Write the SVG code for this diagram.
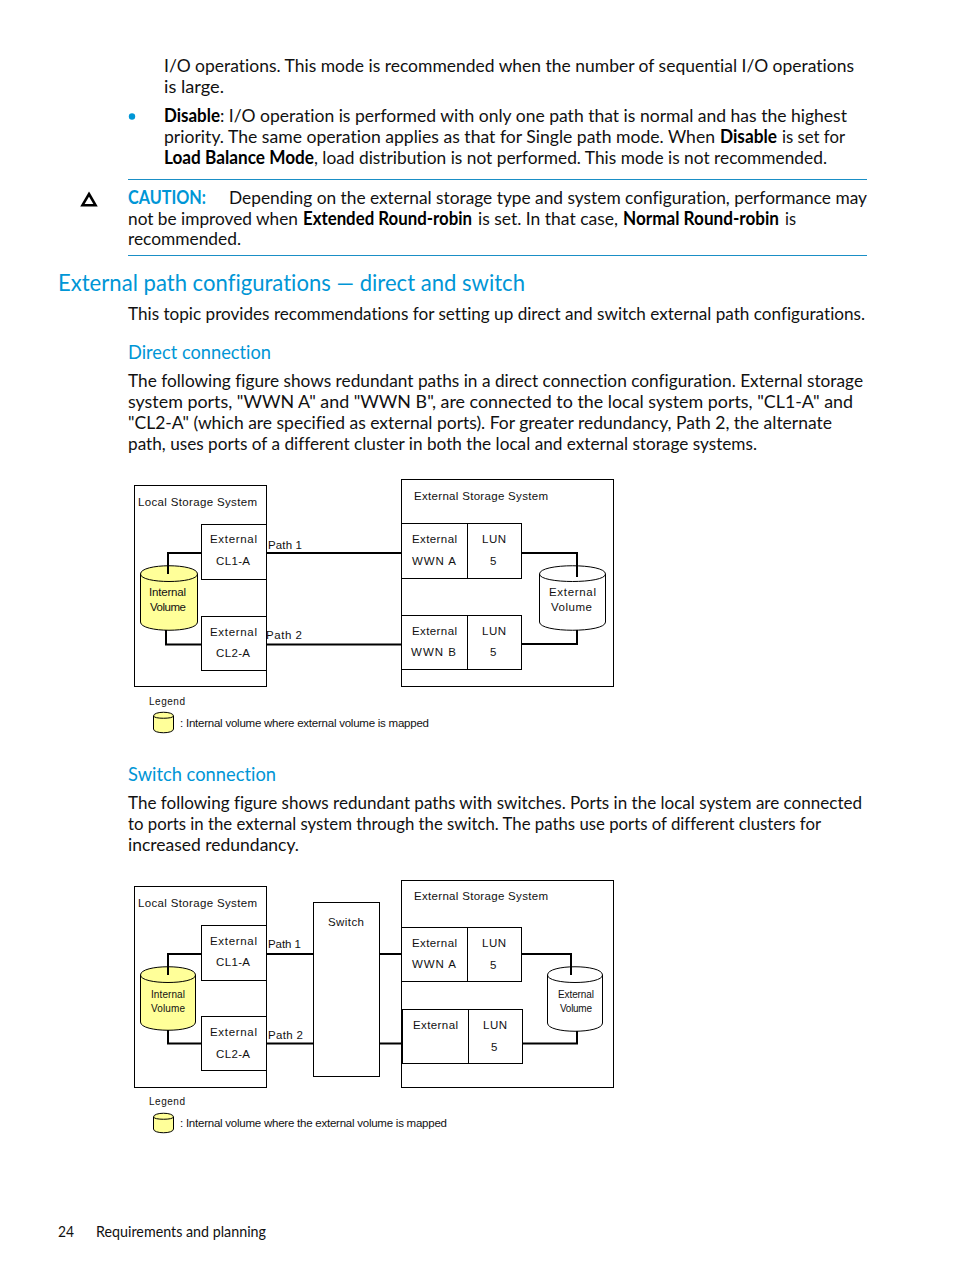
<svg xmlns="http://www.w3.org/2000/svg" width="954" height="1271" viewBox="0 0 954 1271">
<style>
text{font-family:"Lato","Noto Sans",sans-serif;font-size:18px;fill:#111;font-variant-ligatures:none}
.b{font-weight:700;fill:#000}
.bl{fill:#0096d6}
.h1{font-size:24px}
.h2{font-size:20px}
.ft{font-size:15px}
.d{font-family:"Liberation Sans",Arial,sans-serif;font-size:11.5px;fill:#111}
.s{font-size:10px}
.box{fill:#fff;stroke:#000;stroke-width:1}
.cyl{stroke:#000;stroke-width:1;fill:#fff}
.y{fill:#ffff99}
.ln{fill:none;stroke:#000;stroke-width:2}
.rule{stroke:#1a8fc6;stroke-width:1}
</style>
<rect width="954" height="1271" fill="#fff"/>

<g id="page-text">
<text x="164" y="72" textLength="690" lengthAdjust="spacingAndGlyphs">I/O operations. This mode is recommended when the number of sequential I/O operations</text>
<text x="164" y="93" textLength="60" lengthAdjust="spacingAndGlyphs">is large.</text>
<circle cx="132" cy="116.500" r="3.200" fill="#0096d6"/>
<text y="122"><tspan class="b" x="164" textLength="56" lengthAdjust="spacingAndGlyphs">Disable</tspan><tspan x="220" textLength="627" lengthAdjust="spacingAndGlyphs">: I/O operation is performed with only one path that is normal and has the highest</tspan></text>
<text y="142.500"><tspan x="164" textLength="551" lengthAdjust="spacingAndGlyphs">priority. The same operation applies as that for Single path mode. When</tspan></text>
<text y="142.500"><tspan class="b" x="720" textLength="57" lengthAdjust="spacingAndGlyphs">Disable</tspan></text>
<text y="142.500"><tspan x="782" textLength="63" lengthAdjust="spacingAndGlyphs">is set for</tspan></text>
<text y="163.500"><tspan class="b" x="164" textLength="150" lengthAdjust="spacingAndGlyphs">Load Balance Mode</tspan><tspan x="314" textLength="513" lengthAdjust="spacingAndGlyphs">, load distribution is not performed. This mode is not recommended.</tspan></text>
<line class="rule" x1="128" y1="179.500" x2="867" y2="179.500"/>
<path d="M89 194 L95.500 205.200 L82.500 205.200 Z" fill="none" stroke="#000" stroke-width="2.600"/>
<text y="204"><tspan class="b bl" x="128" textLength="78" lengthAdjust="spacingAndGlyphs">CAUTION:</tspan><tspan x="229" textLength="638" lengthAdjust="spacingAndGlyphs">Depending on the external storage type and system configuration, performance may</tspan></text>
<text y="225"><tspan x="128" textLength="170" lengthAdjust="spacingAndGlyphs">not be improved when</tspan><tspan class="b" x="303" textLength="169" lengthAdjust="spacingAndGlyphs">Extended Round-robin</tspan><tspan x="478" textLength="140" lengthAdjust="spacingAndGlyphs">is set. In that case,</tspan><tspan class="b" x="623" textLength="156" lengthAdjust="spacingAndGlyphs">Normal Round-robin</tspan><tspan x="785" textLength="11" lengthAdjust="spacingAndGlyphs">is</tspan></text>
<text x="128" y="245" textLength="113" lengthAdjust="spacingAndGlyphs">recommended.</text>
<line class="rule" x1="128" y1="255.500" x2="867" y2="255.500"/>
<text class="h1 bl" x="58" y="291" textLength="467" lengthAdjust="spacingAndGlyphs">External path configurations — direct and switch</text>
<text x="128" y="320" textLength="737" lengthAdjust="spacingAndGlyphs">This topic provides recommendations for setting up direct and switch external path configurations.</text>
<text class="h2 bl" x="128" y="359" textLength="143" lengthAdjust="spacingAndGlyphs">Direct connection</text>
<text x="128" y="387" textLength="735" lengthAdjust="spacingAndGlyphs">The following figure shows redundant paths in a direct connection configuration. External storage</text>
<text x="128" y="408" textLength="725" lengthAdjust="spacingAndGlyphs">system ports, "WWN A" and "WWN B", are connected to the local system ports, "CL1-A" and</text>
<text x="128" y="429" textLength="704" lengthAdjust="spacingAndGlyphs">"CL2-A" (which are specified as external ports). For greater redundancy, Path 2, the alternate</text>
<text x="128" y="450" textLength="629" lengthAdjust="spacingAndGlyphs">path, uses ports of a different cluster in both the local and external storage systems.</text>
<text class="h2 bl" x="128" y="781" textLength="148" lengthAdjust="spacingAndGlyphs">Switch connection</text>
<text x="128" y="809" textLength="734" lengthAdjust="spacingAndGlyphs">The following figure shows redundant paths with switches. Ports in the local system are connected</text>
<text x="128" y="830" textLength="693" lengthAdjust="spacingAndGlyphs">to ports in the external system through the switch. The paths use ports of different clusters for</text>
<text x="128" y="851" textLength="171" lengthAdjust="spacingAndGlyphs">increased redundancy.</text>
<text class="ft" x="58" y="1237" textLength="16" lengthAdjust="spacingAndGlyphs">24</text>
<text class="ft" x="96" y="1237" textLength="170" lengthAdjust="spacingAndGlyphs">Requirements and planning</text>
</g>

<g id="d1-local">
<rect class="box" x="134.500" y="485.500" width="132" height="201"/>
<text class="d" x="138" y="506" textLength="119" lengthAdjust="spacing">Local Storage System</text>
</g>
<g id="d1-cl1a">
<rect class="box" x="201.500" y="524.500" width="65" height="55"/>
<text class="d" x="210" y="543" textLength="47" lengthAdjust="spacing">External</text>
<text class="d" x="216" y="565" textLength="34" lengthAdjust="spacing">CL1-A</text>
</g>
<g id="d1-cl2a">
<rect class="box" x="201.500" y="616.500" width="65" height="54"/>
<text class="d" x="210" y="636" textLength="47" lengthAdjust="spacing">External</text>
<text class="d" x="216" y="657" textLength="34" lengthAdjust="spacing">CL2-A</text>
</g>
<g id="d1-internal">
<path class="cyl y" d="M140.500 574 C140.500 563 197.500 563 197.500 574 V622 C197.500 633 140.500 633 140.500 622 Z"/>
<path class="cyl" style="fill:none" d="M140.500 574 C140.500 584 197.500 584 197.500 574"/>
<text class="d" x="149" y="596" textLength="37" lengthAdjust="spacing">Internal</text>
<text class="d" x="150" y="611" textLength="36" lengthAdjust="spacing">Volume</text>
</g>
<g id="d1-external">
<rect class="box" x="401.500" y="479.500" width="212" height="207"/>
<text class="d" x="414" y="500" textLength="134" lengthAdjust="spacing">External Storage System</text>
</g>
<g id="d1-wwna">
<rect class="box" x="401.500" y="523.500" width="66" height="55"/>
<text class="d" x="412" y="543" textLength="45" lengthAdjust="spacing">External</text>
<text class="d" x="412" y="565" textLength="44" lengthAdjust="spacing">WWN A</text>
</g>
<g id="d1-lun-a">
<rect class="box" x="467.500" y="523.500" width="54" height="55"/>
<text class="d" x="482" y="543" textLength="24" lengthAdjust="spacing">LUN</text>
<text class="d" x="490" y="565">5</text>
</g>
<g id="d1-wwnb">
<rect class="box" x="401.500" y="615.500" width="66" height="54"/>
<text class="d" x="412" y="635" textLength="45" lengthAdjust="spacing">External</text>
<text class="d" x="411" y="656" textLength="45" lengthAdjust="spacing">WWN B</text>
</g>
<g id="d1-lun-b">
<rect class="box" x="467.500" y="615.500" width="54" height="54"/>
<text class="d" x="482" y="635" textLength="24" lengthAdjust="spacing">LUN</text>
<text class="d" x="490" y="656">5</text>
</g>
<g id="d1-extvol">
<path class="cyl" d="M539.500 574 C539.500 563 605.500 563 605.500 574 V622 C605.500 633 539.500 633 539.500 622 Z"/>
<path class="cyl" style="fill:none" d="M539.500 574 C539.500 584 605.500 584 605.500 574"/>
<text class="d" x="549" y="596" textLength="47" lengthAdjust="spacing">External</text>
<text class="d" x="551" y="611" textLength="41" lengthAdjust="spacing">Volume</text>
</g>
<g id="d1-connectors">
<path class="ln" d="M201 553 H168 V574"/>
<path class="ln" d="M201 644.500 H166 V630"/>
<path class="ln" d="M267 553 H401"/>
<path class="ln" d="M267 644.500 H401"/>
<path class="ln" d="M522 553 H577 V577"/>
<path class="ln" d="M522 644 H577 V630"/>
</g>
<g id="d1-paths">
<text class="d" x="268" y="548.500" textLength="34" lengthAdjust="spacing">Path 1</text>
<text class="d" x="266" y="638.500" textLength="36" lengthAdjust="spacing">Path 2</text>
</g>
<g id="d1-legend">
<text class="d s" x="149" y="705" textLength="36" lengthAdjust="spacing">Legend</text>
<path class="cyl y" d="M153.500 716 C153.500 711 173.500 711 173.500 716 V729 C173.500 734 153.500 734 153.500 729 Z"/>
<path class="cyl" style="fill:none" d="M153.500 716 C153.500 719 173.500 719 173.500 716"/>
<text class="d" x="180" y="727" textLength="249" lengthAdjust="spacing">: Internal volume where external volume is mapped</text>
</g>

<g id="d2-local">
<rect class="box" x="134.500" y="886.500" width="132" height="201"/>
<text class="d" x="138" y="907" textLength="119" lengthAdjust="spacing">Local Storage System</text>
</g>
<g id="d2-cl1a">
<rect class="box" x="201.500" y="925.500" width="65" height="55"/>
<text class="d" x="210" y="945" textLength="47" lengthAdjust="spacing">External</text>
<text class="d" x="216" y="966" textLength="34" lengthAdjust="spacing">CL1-A</text>
</g>
<g id="d2-cl2a">
<rect class="box" x="201.500" y="1016.500" width="65" height="54"/>
<text class="d" x="210" y="1036" textLength="47" lengthAdjust="spacing">External</text>
<text class="d" x="216" y="1058" textLength="34" lengthAdjust="spacing">CL2-A</text>
</g>
<g id="d2-internal">
<path class="cyl y" d="M140.500 975 C140.500 964 195.500 964 195.500 975 V1022 C195.500 1033 140.500 1033 140.500 1022 Z"/>
<path class="cyl" style="fill:none" d="M140.500 975 C140.500 985 195.500 985 195.500 975"/>
<text class="d s" x="151" y="998" textLength="34" lengthAdjust="spacing">Internal</text>
<text class="d s" x="151" y="1012" textLength="34" lengthAdjust="spacing">Volume</text>
</g>
<g id="d2-switch">
<rect class="box" x="313.500" y="902.500" width="66" height="174"/>
<text class="d" x="328" y="926" textLength="36" lengthAdjust="spacing">Switch</text>
</g>
<g id="d2-external">
<rect class="box" x="401.500" y="880.500" width="212" height="207"/>
<text class="d" x="414" y="900" textLength="134" lengthAdjust="spacing">External Storage System</text>
</g>
<g id="d2-wwna">
<rect class="box" x="401.500" y="927.500" width="66" height="54"/>
<text class="d" x="412" y="947" textLength="45" lengthAdjust="spacing">External</text>
<text class="d" x="412" y="968" textLength="44" lengthAdjust="spacing">WWN A</text>
</g>
<g id="d2-lun-a">
<rect class="box" x="467.500" y="927.500" width="54" height="54"/>
<text class="d" x="482" y="947" textLength="24" lengthAdjust="spacing">LUN</text>
<text class="d" x="490" y="969">5</text>
</g>
<g id="d2-ext2">
<rect class="box" x="402.500" y="1009.500" width="66" height="54"/>
<line x1="402" y1="1009" x2="402" y2="1064" stroke="#000" stroke-width="2"/>
<text class="d" x="413" y="1029" textLength="45" lengthAdjust="spacing">External</text>
</g>
<g id="d2-lun-b">
<rect class="box" x="468.500" y="1009.500" width="54" height="54"/>
<text class="d" x="483" y="1029" textLength="24" lengthAdjust="spacing">LUN</text>
<text class="d" x="491" y="1051">5</text>
</g>
<g id="d2-extvol">
<path class="cyl" d="M547.500 975 C547.500 964 602.500 964 602.500 975 V1023 C602.500 1034 547.500 1034 547.500 1023 Z"/>
<path class="cyl" style="fill:none" d="M547.500 975 C547.500 985 602.500 985 602.500 975"/>
<text class="d s" x="558" y="998" textLength="36" lengthAdjust="spacing">External</text>
<text class="d s" x="560" y="1012" textLength="32" lengthAdjust="spacing">Volume</text>
</g>
<g id="d2-connectors">
<path class="ln" d="M201 954 H168 V975"/>
<path class="ln" d="M201 1043.500 H168 V1030"/>
<path class="ln" d="M267 954 H313"/>
<path class="ln" d="M267 1043.500 H313"/>
<path class="ln" d="M380 954 H401"/>
<path class="ln" d="M380 1043.500 H401"/>
<path class="ln" d="M522 954 H571 V975"/>
<path class="ln" d="M523 1043.500 H577 V1031"/>
</g>
<g id="d2-paths">
<text class="d" x="268" y="948" textLength="33" lengthAdjust="spacing">Path 1</text>
<text class="d" x="268" y="1039" textLength="35" lengthAdjust="spacing">Path 2</text>
</g>
<g id="d2-legend">
<text class="d s" x="149" y="1105" textLength="36" lengthAdjust="spacing">Legend</text>
<path class="cyl y" d="M153.500 1117 C153.500 1112 173.500 1112 173.500 1117 V1129 C173.500 1134 153.500 1134 153.500 1129 Z"/>
<path class="cyl" style="fill:none" d="M153.500 1117 C153.500 1120 173.500 1120 173.500 1117"/>
<text class="d" x="180" y="1127" textLength="267" lengthAdjust="spacing">: Internal volume where the external volume is mapped</text>
</g>
</svg>
